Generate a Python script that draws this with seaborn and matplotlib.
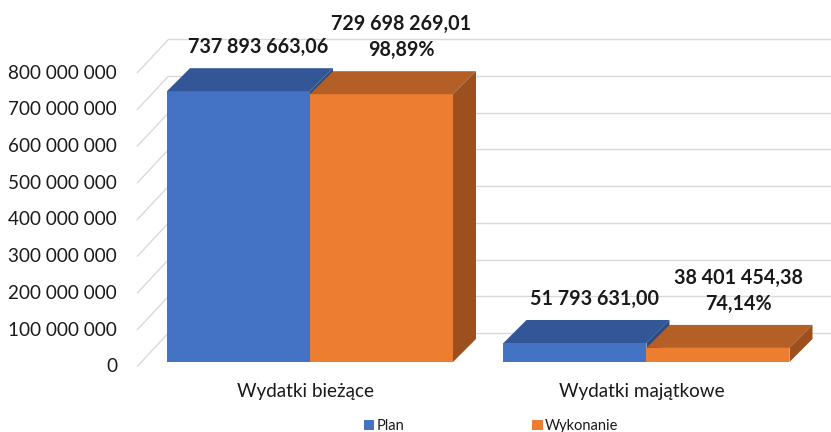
import matplotlib
matplotlib.use("Agg")
import numpy as np
import pandas as pd
import seaborn as sns
import matplotlib.pyplot as plt
from matplotlib.patches import Polygon, Patch
from matplotlib.transforms import offset_copy

# ---- data -------------------------------------------------------------
categories = ["Wydatki bieżące", "Wydatki majątkowe"]
series = ["Plan", "Wykonanie"]
plan = [737893663.06, 51793631.00]
wykonanie = [729698269.01, 38401454.38]
y_ticks = [0, 100e6, 200e6, 300e6, 400e6, 500e6, 600e6, 700e6, 800e6]

# ---- style ------------------------------------------------------------
front_colors = ["#4472C4", "#ED7D31"]
top_colors = ["#335796", "#B45F25"]
side_colors = ["#2C4C84", "#9B501E"]
grid_color = "#D9D9D9"
text_color = "#1A1A1A"

W, H, DPI = 831, 432, 100
sns.set_theme(style="white")
plt.rcParams["font.family"] = ["Lato", "DejaVu Sans"]


def pl_number(v, decimals):
    s = f"{v:,.{decimals}f}"
    return s.replace(",", " ").replace(".", ",")


df = pd.DataFrame({
    "kategoria": categories * 2,
    "seria": [series[0]] * len(categories) + [series[1]] * len(categories),
    "wartosc": plan + wykonanie,
})

fig = plt.figure(figsize=(W / DPI, H / DPI), dpi=DPI)
fig.patch.set_facecolor("white")

# plot area (pixel box of the bars' front plane)
ax_left, ax_right, ax_top, ax_bottom = 141.5, 805.0, 68.4, 362.0
ax = fig.add_axes([ax_left / W, 1 - ax_bottom / H,
                   (ax_right - ax_left) / W, (ax_bottom - ax_top) / H])

sns.barplot(data=df, x="kategoria", y="wartosc", hue="seria",
            palette=front_colors, width=0.85, saturation=1,
            linewidth=0, ax=ax, legend=False)
bars = list(ax.patches)

xlim = (-0.5007, 1.4711)
ylim = (0, y_ticks[-1])
ax.set_xlim(*xlim)
ax.set_ylim(*ylim)
ax.axis("off")

px_x = (ax_right - ax_left) / (xlim[1] - xlim[0])
px_y = (ax_bottom - ax_top) / (ylim[1] - ylim[0])

# pseudo-3D depth offsets in pixels (x right, y up)
front_off = (-4.5, -4.7)   # front edge of the walls
back_off = (27.0, 29.0)    # back wall
bar_depth = (23.0, 23.0)   # depth of each bar


def dx(p):
    return p / px_x


def dy(p):
    return p / px_y


# walls: back-wall gridlines and side-wall diagonals
for v in y_ticks:
    ax.plot([xlim[0] + dx(back_off[0]), xlim[1] + dx(back_off[0])],
            [v + dy(back_off[1])] * 2,
            color=grid_color, lw=1.0, zorder=0.5, clip_on=False,
            solid_capstyle="butt")
    ax.plot([xlim[0] + dx(front_off[0]), xlim[0] + dx(back_off[0])],
            [v + dy(front_off[1]), v + dy(back_off[1])],
            color=grid_color, lw=1.0, zorder=0.5, clip_on=False,
            solid_capstyle="butt")
    ax.text(xlim[0] + dx(front_off[0] - 20), v + dy(front_off[1]),
            pl_number(v, 0), ha="right", va="center", fontsize=13.6,
            color=text_color)

# category labels
for i, cat in enumerate(categories):
    ax.text(i + dx(front_off[0]), dy(-30), cat, ha="center", va="center",
            fontsize=13.6, color=text_color, clip_on=False)

# top and side faces of every bar
n_cat = len(categories)
for k, bar in enumerate(bars):
    s = k // n_cat
    z = 2 + s
    bar.set_zorder(z)
    x0 = bar.get_x()
    x1 = x0 + bar.get_width()
    h = bar.get_height()
    ddx, ddy = dx(bar_depth[0]), dy(bar_depth[1])
    top = Polygon([(x0, h), (x1, h), (x1 + ddx, h + ddy), (x0 + ddx, h + ddy)],
                  closed=True, facecolor=top_colors[s], edgecolor="none",
                  zorder=z + 0.1, clip_on=False)
    side = Polygon([(x1, 0), (x1, h), (x1 + ddx, h + ddy), (x1 + ddx, ddy)],
                   closed=True, facecolor=side_colors[s], edgecolor="none",
                   zorder=z + 0.1, clip_on=False)
    ax.add_patch(top)
    ax.add_patch(side)

# value labels (one text per line, stacked upward from the bar top)
line_gap = 26
for k, bar in enumerate(bars):
    s = k // n_cat
    c = k % n_cat
    h = bar.get_height()
    xc = bar.get_x() + bar.get_width() / 2
    if s == 0:
        lines = [pl_number(plan[c], 2)]
    else:
        lines = [pl_number(wykonanie[c], 2),
                 pl_number(wykonanie[c] / plan[c] * 100, 2) + "%"]
    for j, txt in enumerate(reversed(lines)):
        ax.text(xc + dx(20), h + dy(44 + j * line_gap), txt,
                ha="center", va="center", fontsize=14.2, fontweight="bold",
                color=text_color, zorder=10, clip_on=False)

# legend
handles = [Patch(facecolor=c, edgecolor="none", label=s)
           for c, s in zip(front_colors, series)]
fig.legend(handles=handles, loc="center", bbox_to_anchor=(491 / W, 1 - 426 / H),
           ncol=2, frameon=False, fontsize=10.5, handlelength=0.7,
           handleheight=0.7, handletextpad=0.15, columnspacing=8.8,
           labelcolor=text_color)

fig.savefig("out.png", dpi=DPI, facecolor="white")
